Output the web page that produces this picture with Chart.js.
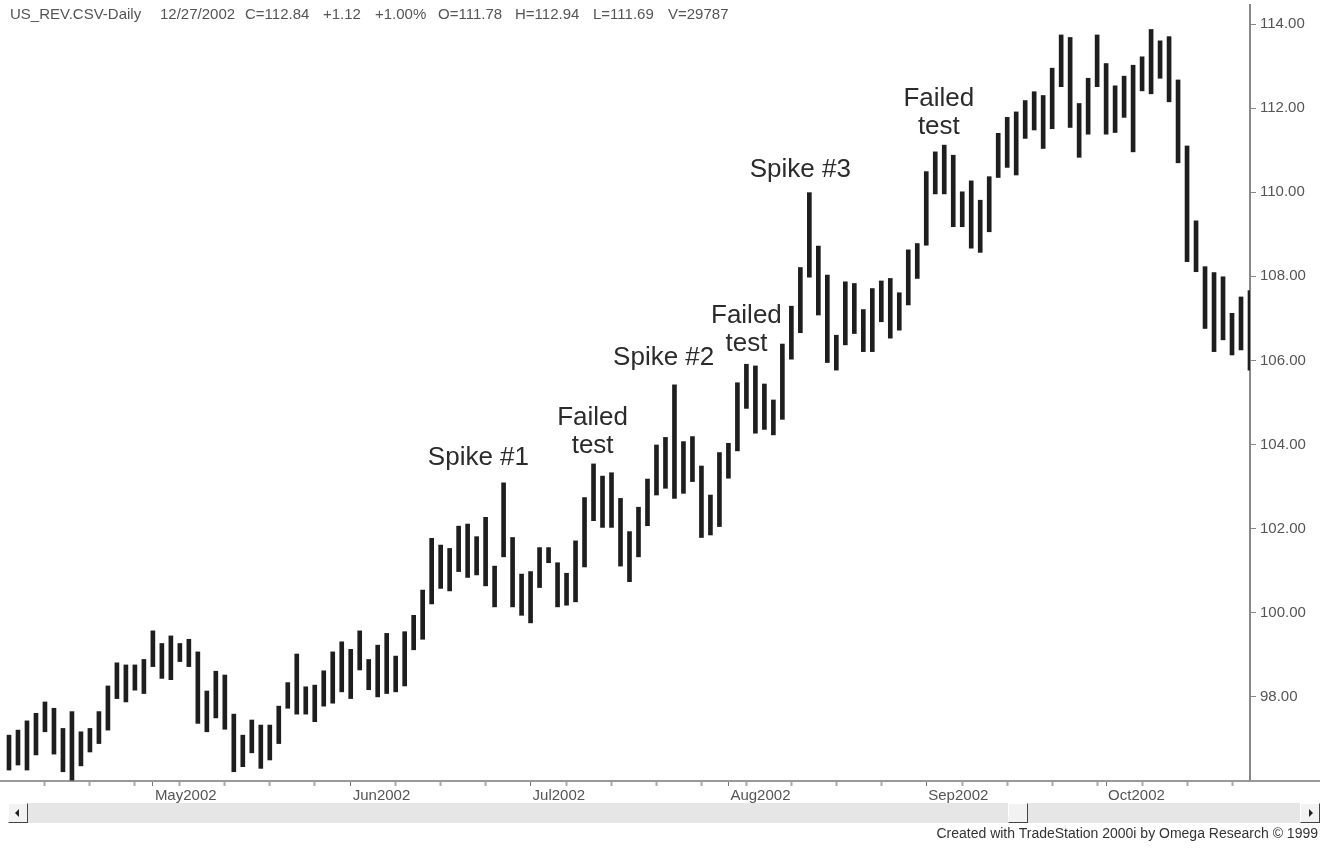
<!DOCTYPE html>
<html>
<head>
<meta charset="utf-8">
<script src="https://cdn.jsdelivr.net/npm/chart.js@4/dist/chart.umd.min.js"></script>
<style>
    body { margin: 0; background: #fff; font-family: "Liberation Sans", Arial, sans-serif; }
    #wrap { position: relative; width: 1328px; height: 849px; overflow: hidden; }
    #chart { position: absolute; left: 0; top: -8px; }
    .hdr { position: absolute; top: 5px; font-size: 15px; color: #555; white-space: pre; }
    #axisExt { position: absolute; left: 1250px; top: 780px; width: 70px; height: 2px; background: #999; }
    #scroll { position: absolute; left: 8px; top: 803px; width: 1312px; height: 20px; background: #e6e6e6; }
    .btn { position: absolute; top: 803px; width: 18px; height: 18px; background: #f2f2f2;
           border-left: 1px solid #fff; border-top: 1px solid #fff;
           border-right: 1px solid #444; border-bottom: 1px solid #444; }
    .btn span { position: absolute; top: 5px; width: 0; height: 0;
                border-top: 4px solid transparent; border-bottom: 4px solid transparent; }
    #footer { position: absolute; right: 10px; top: 825px; font-size: 14px; color: #333; white-space: pre; }
</style>
</head>
<body>
<div id="wrap">
    <canvas id="chart" width="1328" height="857"></canvas>
    <div class="hdr" style="left:10px">US_REV.CSV-Daily</div>
    <div class="hdr" style="left:160px">12/27/2002</div>
    <div class="hdr" style="left:245px">C=112.84</div>
    <div class="hdr" style="left:323px">+1.12</div>
    <div class="hdr" style="left:375px">+1.00%</div>
    <div class="hdr" style="left:438px">O=111.78</div>
    <div class="hdr" style="left:515px">H=112.94</div>
    <div class="hdr" style="left:593px">L=111.69</div>
    <div class="hdr" style="left:668px">V=29787</div>
    <div id="axisExt"></div>
    <div id="scroll"></div>
    <div class="btn" style="left:8px"><span style="left:6px;border-right:4px solid #222"></span></div>
    <div class="btn" style="left:1008px"></div>
    <div class="btn" style="left:1300px"><span style="left:8px;border-left:4px solid #222"></span></div>
    <div id="footer">Created with TradeStation 2000i by Omega Research © 1999</div>
</div>
<script>
// daily bars, first session 9 Apr 2002
const startDate = "2002-04-09";
const holidays = ["2002-05-27", "2002-07-04", "2002-09-02"];
const monthNames = ["Jan", "Feb", "Mar", "Apr", "May", "Jun", "Jul", "Aug", "Sep", "Oct", "Nov", "Dec"];

const highs = [
    97.09, 97.21, 97.43, 97.61, 97.88, 97.73, 97.25, 97.65, 97.17, 97.25,
    97.65, 98.26, 98.81, 98.76, 98.76, 98.89, 99.57, 99.27, 99.45, 99.27,
    99.37, 99.07, 98.14, 98.61, 98.52, 97.59, 97.09, 97.45, 97.33, 97.33,
    97.78, 98.34, 99.02, 98.24, 98.28, 98.62, 99.07, 99.31, 99.13, 99.57,
    98.89, 99.23, 99.51, 98.97, 99.55, 99.94, 100.54, 101.77, 101.61, 101.53,
    102.06, 102.11, 101.81, 102.27, 101.11, 103.09, 101.79, 100.92, 100.98, 101.55,
    101.55, 101.19, 100.94, 101.71, 102.74, 103.54, 103.25, 103.33, 102.72, 101.93,
    102.51, 103.18, 103.99, 104.17, 105.42, 104.07, 104.19, 103.49, 102.80, 103.81,
    104.03, 105.47, 105.91, 105.87, 105.44, 105.06, 106.39, 107.29, 108.21, 109.99,
    108.72, 108.03, 106.60, 107.87, 107.83, 107.21, 107.71, 107.89, 107.95, 107.61,
    108.63, 108.78, 110.49, 110.96, 111.12, 110.88, 110.01, 110.27, 109.81, 110.37,
    111.40, 111.78, 111.91, 112.18, 112.39, 112.30, 112.95, 113.74, 113.68, 112.11,
    112.71, 113.74, 113.06, 112.53, 112.76, 113.02, 113.22, 113.87, 113.60, 113.70,
    112.67, 111.10, 109.32, 108.23, 108.09, 107.99, 107.12, 107.51, 107.66
];
const lows = [
    96.26, 96.38, 96.26, 96.62, 97.17, 96.64, 96.22, 96.02, 96.36, 96.69,
    96.89, 97.21, 97.96, 97.88, 98.16, 98.08, 98.72, 98.44, 98.41, 98.84,
    98.72, 97.37, 97.17, 97.50, 97.23, 96.22, 96.34, 96.67, 96.30, 96.50,
    96.89, 97.73, 97.59, 97.59, 97.41, 97.78, 97.85, 98.12, 97.96, 98.64,
    98.17, 98.00, 98.08, 98.12, 98.26, 99.12, 99.37, 100.21, 100.58, 100.52,
    100.98, 100.84, 100.90, 100.64, 100.14, 101.33, 100.14, 99.94, 99.76, 100.60,
    101.19, 100.14, 100.18, 100.26, 101.09, 102.19, 102.03, 102.03, 101.11, 100.74,
    101.33, 102.07, 102.80, 102.96, 102.72, 102.84, 103.12, 101.79, 101.85, 102.05,
    103.20, 103.85, 104.86, 104.27, 104.36, 104.23, 104.60, 106.03, 106.66, 107.98,
    107.08, 105.95, 105.77, 106.37, 106.64, 106.21, 106.21, 106.92, 106.53, 106.72,
    107.32, 107.95, 108.74, 109.96, 109.96, 109.18, 109.18, 108.67, 108.57, 109.06,
    110.35, 110.59, 110.41, 111.28, 111.48, 111.04, 111.51, 112.51, 111.54, 110.83,
    111.38, 112.51, 111.38, 111.42, 111.78, 110.96, 112.41, 112.34, 112.71, 112.15,
    110.70, 108.35, 108.11, 106.76, 106.21, 106.49, 106.13, 106.25, 105.77
];
const priceTicks = [98, 100, 102, 104, 106, 108, 110, 112, 114];

const notes = [
    { text: "Spike #1", at: 52.2, price: 103.51 },
    { text: "Failed\ntest", at: 64.9, price: 104.46 },
    { text: "Spike #2", at: 72.8, price: 105.89 },
    { text: "Failed\ntest", at: 82.0, price: 106.89 },
    { text: "Spike #3", at: 88.0, price: 110.36 },
    { text: "Failed\ntest", at: 103.4, price: 112.05 }
];

// build the trading calendar for the bars
const days = [];
let d = new Date(startDate + "T12:00:00");
while (days.length < highs.length) {
    const iso = d.toISOString().slice(0, 10);
    const dow = d.getDay();
    if (dow !== 0 && dow !== 6 && !holidays.includes(iso)) days.push(new Date(d));
    d.setDate(d.getDate() + 1);
}

const monthLabel = {};
const tickIdx = [];
days.forEach((day, i) => {
    if (i === 0) return;
    const prev = days[i - 1];
    if (day.getMonth() !== prev.getMonth()) {
        monthLabel[i] = monthNames[day.getMonth()] + day.getFullYear();
        tickIdx.push(i);
    } else if (day.getDay() < prev.getDay()) {
        tickIdx.push(i);
    }
});

const notesPlugin = {
    id: "notes",
    afterDatasetsDraw(chart) {
        const ctx = chart.ctx;
        ctx.save();
        ctx.font = '26px "Liberation Sans", Arial, sans-serif';
        ctx.fillStyle = "#2b2b2b";
        ctx.textAlign = "center";
        ctx.textBaseline = "alphabetic";
        notes.forEach(n => {
            const x = chart.scales.x.getPixelForValue(n.at);
            const y = chart.scales.y.getPixelForValue(n.price);
            n.text.split("\n").forEach((line, k) => ctx.fillText(line, x, y + k * 28));
        });
        ctx.restore();
    }
};

new Chart(document.getElementById("chart"), {
    type: "bar",
    data: {
        datasets: [{
            data: highs.map((h, i) => ({ x: i, y: [lows[i], h] })),
            backgroundColor: "#1e1e1e",
            borderWidth: 0,
            barThickness: 4
        }]
    },
    options: {
        responsive: false,
        animation: false,
        layout: { padding: 0, autoPadding: false },
        plugins: { legend: { display: false }, tooltip: { enabled: false } },
        scales: {
            x: {
                type: "linear",
                min: -1,
                max: 138,
                offset: false,
                afterBuildTicks: s => { s.ticks = tickIdx.map(v => ({ value: v })); },
                afterFit: s => { s.height = 68; },
                border: { color: "#999", width: 2 },
                grid: {
                    offset: false,
                    drawOnChartArea: false,
                    tickLength: 5,
                    tickColor: c => monthLabel[c.tick && c.tick.value] ? "#777" : "#aaa",
                    tickWidth: c => monthLabel[c.tick && c.tick.value] ? 1 : 2
                },
                ticks: {
                    autoSkip: false,
                    maxRotation: 0,
                    align: "start",
                    labelOffset: 2,
                    padding: 1,
                    color: "#555",
                    font: { family: '"Liberation Sans", Arial, sans-serif', size: 15 },
                    callback: v => monthLabel[v] || ""
                }
            },
            y: {
                position: "right",
                min: 96,
                max: 114.452,
                afterBuildTicks: s => { s.ticks = priceTicks.map(v => ({ value: v })); },
                afterFit: s => { s.width = 78; },
                border: { color: "#888", width: 2 },
                grid: { drawOnChartArea: false, tickLength: 6, tickColor: "#888" },
                ticks: {
                    padding: 4,
                    color: "#555",
                    font: { family: '"Liberation Sans", Arial, sans-serif', size: 15 },
                    callback: v => v.toFixed(2)
                }
            }
        }
    },
    plugins: [notesPlugin]
});
</script>
</body>
</html>
